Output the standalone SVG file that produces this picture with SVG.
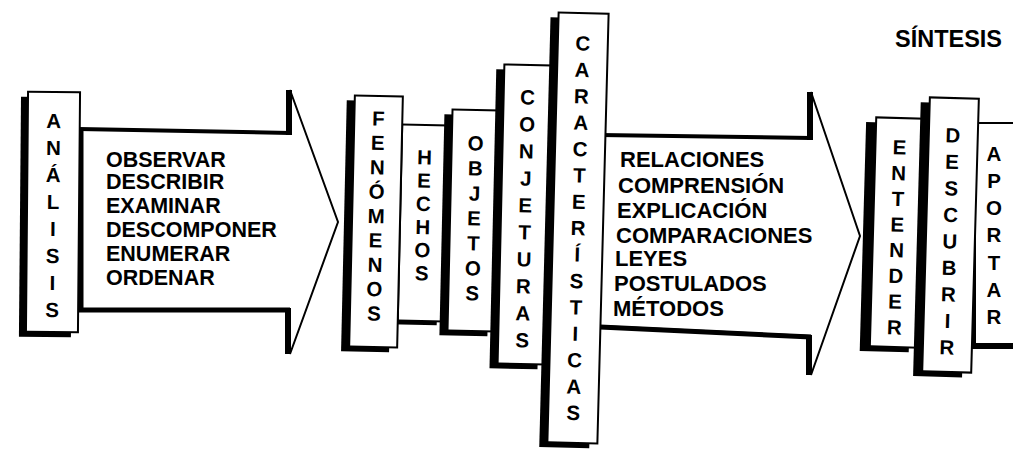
<svg xmlns="http://www.w3.org/2000/svg" width="1013" height="454" viewBox="0 0 1013 454">
<style>
.bg{fill:#fff}
.box{fill:#fff;stroke:#000;stroke-width:2}
.sh{fill:#000}
.ar{fill:#fff;stroke:#000;stroke-width:2;stroke-linejoin:miter}
.tk{stroke:#000;fill:none;stroke-linecap:butt}
.v{font-family:"Liberation Sans",Arial,Helvetica,sans-serif;font-weight:bold;font-size:20.5px;text-anchor:middle;fill:#000}
.t{font-family:"Liberation Sans",Arial,Helvetica,sans-serif;font-weight:bold;font-size:21.5px;fill:#000}
.t2{font-family:"Liberation Sans",Arial,Helvetica,sans-serif;font-weight:bold;font-size:22px;fill:#000}
.t3{font-family:"Liberation Sans",Arial,Helvetica,sans-serif;font-weight:bold;font-size:23px;fill:#000}
</style>
<rect class="bg" x="0" y="0" width="1013" height="454"/>

<g id="connectors">
  <g id="arrow-analisis">
    <polygon class="ar" points="79,129 290,133 290,90 338,222 290,354 290,309 79,309"/>
    <line class="tk" stroke-width="4" x1="79" y1="129" x2="290" y2="133"/>
    <line class="tk" stroke-width="5" x1="79" y1="310" x2="290" y2="310"/>
    <line class="tk" stroke-width="5" x1="81" y1="128" x2="81" y2="312"/>
    <line class="tk" stroke-width="6" x1="289" y1="90" x2="289" y2="135"/>
    <line class="tk" stroke-width="6" x1="288" y1="308" x2="288" y2="354"/>
  </g>
  <g id="arrow-caracteristicas">
    <polygon class="ar" points="600,135 811,138 811,92 860,236 811,375 811,336 600,326"/>
    <line class="tk" stroke-width="4" x1="600" y1="135" x2="811" y2="138"/>
    <line class="tk" stroke-width="5" x1="600" y1="327" x2="811" y2="337"/>
    <line class="tk" stroke-width="6" x1="810" y1="92" x2="810" y2="140"/>
    <line class="tk" stroke-width="6" x1="809" y1="335" x2="809" y2="375"/>
  </g>
</g>

<g id="arrow-text-1">
  <text class="t" x="106" y="167">OBSERVAR</text>
  <text class="t" x="106" y="189">DESCRIBIR</text>
  <text class="t" x="106" y="213">EXAMINAR</text>
  <text class="t" x="106" y="237">DESCOMPONER</text>
  <text class="t" x="106" y="261">ENUMERAR</text>
  <text class="t" x="106" y="285">ORDENAR</text>
</g>

<g id="arrow-text-2">
  <text class="t2" x="620" y="167">RELACIONES</text>
  <text class="t2" x="618" y="193">COMPRENSIÓN</text>
  <text class="t2" x="617" y="218">EXPLICACIÓN</text>
  <text class="t2" x="616" y="243">COMPARACIONES</text>
  <text class="t2" x="615" y="266">LEYES</text>
  <text class="t2" x="614" y="291">POSTULADOS</text>
  <text class="t2" x="613" y="316">MÉTODOS</text>
</g>

<g id="analisis" transform="rotate(0.5 53 212)">
  <rect class="sh" x="20" y="97" width="52" height="240"/>
  <rect class="box" x="27" y="92" width="52" height="240"/>
  <text class="v"><tspan x="53" y="128">A</tspan><tspan x="53" dy="27">N</tspan><tspan x="53" dy="27">Á</tspan><tspan x="53" dy="27">L</tspan><tspan x="53" dy="27">I</tspan><tspan x="53" dy="27">S</tspan><tspan x="53" dy="27">I</tspan><tspan x="53" dy="27">S</tspan></text>
</g>

<g id="hechos" transform="rotate(1.3 424 223)">
  <rect class="sh" x="392" y="129" width="47" height="196"/>
  <rect class="box" x="400" y="125" width="47" height="196"/>
  <text class="v"><tspan x="423" y="164.5">H</tspan><tspan x="423" dy="23.2">E</tspan><tspan x="423" dy="23.2">C</tspan><tspan x="423" dy="23.2">H</tspan><tspan x="423" dy="23.2">O</tspan><tspan x="423" dy="23.2">S</tspan></text>
</g>

<g id="fenomenos" transform="rotate(1.3 376 222)">
  <rect class="sh" x="344" y="101" width="48" height="251"/>
  <rect class="box" x="352" y="96" width="48" height="251"/>
  <text class="v"><tspan x="376" y="125.5">F</tspan><tspan x="376" dy="24.4">E</tspan><tspan x="376" dy="24.4">N</tspan><tspan x="376" dy="24.4">Ó</tspan><tspan x="376" dy="24.4">M</tspan><tspan x="376" dy="24.4">E</tspan><tspan x="376" dy="24.4">N</tspan><tspan x="376" dy="24.4">O</tspan><tspan x="376" dy="24.4">S</tspan></text>
</g>

<g id="objetos" transform="rotate(1.3 474 221)">
  <rect class="sh" x="442" y="115" width="48" height="221"/>
  <rect class="box" x="450" y="110" width="48" height="221"/>
  <text class="v"><tspan x="474" y="150.5">O</tspan><tspan x="474" dy="25">B</tspan><tspan x="474" dy="25">J</tspan><tspan x="474" dy="25">E</tspan><tspan x="474" dy="25">T</tspan><tspan x="474" dy="25">O</tspan><tspan x="474" dy="25">S</tspan></text>
</g>

<g id="conjeturas" transform="rotate(1.3 525 214)">
  <rect class="sh" x="493" y="70" width="48" height="299"/>
  <rect class="box" x="501" y="65" width="48" height="299"/>
  <text class="v"><tspan x="525" y="104.5">C</tspan><tspan x="525" dy="27">O</tspan><tspan x="525" dy="27">N</tspan><tspan x="525" dy="27">J</tspan><tspan x="525" dy="27">E</tspan><tspan x="525" dy="27">T</tspan><tspan x="525" dy="27">U</tspan><tspan x="525" dy="27">R</tspan><tspan x="525" dy="27">A</tspan><tspan x="525" dy="27">S</tspan></text>
</g>

<g id="caracteristicas" transform="rotate(1.5 578 228)">
  <rect class="sh" x="545" y="18" width="50" height="430"/>
  <rect class="box" x="553" y="13" width="50" height="430"/>
  <text class="v"><tspan x="578" y="50.5">C</tspan><tspan x="578" dy="26.4">A</tspan><tspan x="578" dy="26.4">R</tspan><tspan x="578" dy="26.4">A</tspan><tspan x="578" dy="26.4">C</tspan><tspan x="578" dy="26.4">T</tspan><tspan x="578" dy="26.4">E</tspan><tspan x="578" dy="26.4">R</tspan><tspan x="578" dy="26.4">Í</tspan><tspan x="578" dy="26.4">S</tspan><tspan x="578" dy="26.4">T</tspan><tspan x="578" dy="26.4">I</tspan><tspan x="578" dy="26.4">C</tspan><tspan x="578" dy="26.4">A</tspan><tspan x="578" dy="26.4">S</tspan></text>
</g>

<g id="aportar">
  <rect class="sh" x="968" y="128" width="60" height="221"/>
  <rect class="box" x="975" y="123" width="60" height="221"/>
  <text class="v"><tspan x="994" y="160.5">A</tspan><tspan x="994" dy="27.3">P</tspan><tspan x="994" dy="27.3">O</tspan><tspan x="994" dy="27.3">R</tspan><tspan x="994" dy="27.3">T</tspan><tspan x="994" dy="27.3">A</tspan><tspan x="994" dy="27.3">R</tspan></text>
</g>

<g id="entender" transform="rotate(1.6 897 234)">
  <rect class="sh" x="863" y="123" width="49" height="229"/>
  <rect class="box" x="873" y="118" width="49" height="229"/>
  <text class="v"><tspan x="897" y="154.5">E</tspan><tspan x="897" dy="25.7">N</tspan><tspan x="897" dy="25.7">T</tspan><tspan x="897" dy="25.7">E</tspan><tspan x="897" dy="25.7">N</tspan><tspan x="897" dy="25.7">D</tspan><tspan x="897" dy="25.7">E</tspan><tspan x="897" dy="25.7">R</tspan></text>
</g>

<g id="descubrir" transform="rotate(1.6 950 236)">
  <rect class="sh" x="917" y="103" width="49" height="274"/>
  <rect class="box" x="926" y="98" width="49" height="274"/>
  <text class="v"><tspan x="950" y="142.5">D</tspan><tspan x="950" dy="26.5">E</tspan><tspan x="950" dy="26.5">S</tspan><tspan x="950" dy="26.5">C</tspan><tspan x="950" dy="26.5">U</tspan><tspan x="950" dy="26.5">B</tspan><tspan x="950" dy="26.5">R</tspan><tspan x="950" dy="26.5">I</tspan><tspan x="950" dy="26.5">R</tspan></text>
</g>

<g id="sintesis">
  <text class="t3" x="895" y="47" textLength="107" lengthAdjust="spacingAndGlyphs">SÍNTESIS</text>
</g>
</svg>
